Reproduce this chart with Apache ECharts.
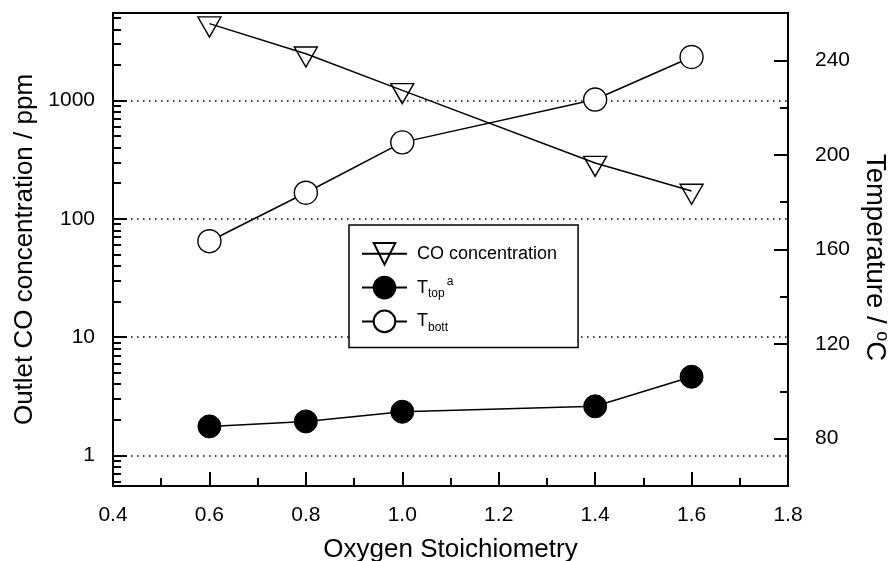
<!DOCTYPE html>
<html>
<head>
<meta charset="utf-8">
<script src="https://cdn.jsdelivr.net/npm/echarts@6/dist/echarts.min.js"></script>
<style>
  html, body { margin: 0; padding: 0; background: #fff; }
  #chart { width: 889px; height: 561px; }
</style>
</head>
<body>
<div id="chart"></div>
<script>
// Oxygen stoichiometry (x) for each run
const stoichiometry = [0.6, 0.8, 1.0, 1.4, 1.6];
// Outlet CO concentration, ppm (left, log axis)
const coConcentration = [4470, 2490, 1220, 296, 172];
// Bed temperatures, °C (right axis)
const tTop = [85.2, 87.3, 91.4, 93.7, 106.2];
const tBott = [163.5, 184, 205.3, 223.4, 241.4];

// Axis tick values
const xTicks = [0.4, 0.6, 0.8, 1.0, 1.2, 1.4, 1.6, 1.8];
const coMajorTicks = [1, 10, 100, 1000];
const coMinorTicks = [0.6, 0.7, 0.8, 0.9, 2, 3, 4, 5, 6, 7, 8, 9, 20, 30, 40, 50, 60, 70, 80, 90,
  200, 300, 400, 500, 600, 700, 800, 900, 2000, 3000, 4000, 5000];
const tempMajorTicks = [80, 120, 160, 200, 240];
const tempMinorTicks = [100, 140, 180, 220];

const FONT = "'Liberation Sans', Arial, sans-serif";
const toPairs = ys => stoichiometry.map((x, i) => [x, ys[i]]);

const legendLabels = {
  'CO concentration': 'CO concentration',
  'Ttop': '{m|T}{sub|top}{sup|a}',
  'Tbott': '{m|T}{sub|bott}'
};

const chart = echarts.init(document.getElementById('chart'), null, { renderer: 'canvas' });

const logRange = { min: 0.55, max: 5500 };
const tempRange = { min: 60, max: 260 };

chart.setOption({
  animation: false,
  backgroundColor: '#fff',
  textStyle: { fontFamily: FONT },
  grid: {
    left: 113, right: 101, top: 13, bottom: 75,
    containLabel: false, outerBoundsMode: 'none',
    show: true, borderColor: '#000', borderWidth: 2, backgroundColor: 'transparent'
  },
  legend: {
    orient: 'vertical',
    left: 349, top: 225,
    itemWidth: 45, itemHeight: 27, itemGap: 10,
    padding: [17, 21, 14, 12],
    borderColor: '#000', borderWidth: 1.5, backgroundColor: '#fff',
    data: ['CO concentration', 'Ttop', 'Tbott'],
    formatter: name => legendLabels[name],
    textStyle: {
      fontFamily: FONT, fontSize: 18, color: '#000', padding: [0, 0, 0, 5],
      rich: {
        m: { fontSize: 18, fontFamily: FONT, color: '#000' },
        sub: { fontSize: 12, fontFamily: FONT, color: '#000', padding: [12, 0, 0, 0] },
        sup: { fontSize: 12, fontFamily: FONT, color: '#000', padding: [0, 0, 12, 2] }
      }
    }
  },
  xAxis: {
    type: 'value',
    min: 0.4, max: 1.8, interval: 0.2,
    name: 'Oxygen Stoichiometry',
    nameLocation: 'middle', nameGap: 51,
    nameTextStyle: { fontSize: 26, color: '#000', fontFamily: FONT },
    axisLine: { show: true, lineStyle: { color: '#000', width: 2 } },
    axisTick: { show: true, inside: true, length: 14, lineStyle: { color: '#000', width: 2 } },
    minorTick: { show: true, splitNumber: 2, length: 8, lineStyle: { color: '#000', width: 2 } },
    axisLabel: {
      customValues: xTicks,
      fontSize: 21, color: '#000', margin: 19, fontFamily: FONT,
      formatter: v => v.toFixed(1)
    },
    splitLine: { show: false }
  },
  yAxis: [
    {
      // CO concentration, log scale
      type: 'log', logBase: 10,
      min: logRange.min, max: logRange.max,
      position: 'left',
      name: 'Outlet CO concentration / ppm',
      nameLocation: 'middle', nameGap: 75, nameRotate: 90,
      nameTextStyle: { fontSize: 26, color: '#000', fontFamily: FONT },
      axisLine: { show: true, lineStyle: { color: '#000', width: 2 } },
      axisTick: { show: true, inside: true, length: 14, customValues: coMajorTicks,
        lineStyle: { color: '#000', width: 2 } },
      axisLabel: { customValues: coMajorTicks, fontSize: 21, color: '#000', margin: 18, fontFamily: FONT,
        formatter: v => String(Math.round(v)) },
      splitLine: { show: true, lineStyle: { color: '#000', width: 1.5, type: [1.5, 4.5] } }
    },
    {
      // minor ticks within each decade of the log axis
      type: 'log', logBase: 10,
      min: logRange.min, max: logRange.max,
      position: 'left',
      axisLine: { show: false },
      axisTick: { show: true, inside: true, length: 8, customValues: coMinorTicks,
        lineStyle: { color: '#000', width: 2 } },
      axisLabel: { show: false },
      splitLine: { show: false }
    },
    {
      // temperature
      type: 'value',
      min: tempRange.min, max: tempRange.max,
      position: 'right',
      name: '{n|Temperature / }{sup|o}{n|C}',
      nameLocation: 'middle', nameGap: 66, nameRotate: -90,
      nameTextStyle: {
        color: '#000',
        padding: [0, 0, 0, 16],
        rich: {
          n: { fontSize: 27.5, fontFamily: FONT, color: '#000' },
          sup: { fontSize: 18, fontFamily: FONT, color: '#000', padding: [0, 0, 15, 0] }
        }
      },
      axisLine: { show: true, lineStyle: { color: '#000', width: 2 } },
      axisTick: { show: true, inside: true, length: 14, customValues: tempMajorTicks,
        lineStyle: { color: '#000', width: 2 } },
      axisLabel: { customValues: tempMajorTicks, fontSize: 21, color: '#000', margin: 27, fontFamily: FONT },
      splitLine: { show: false }
    },
    {
      // minor ticks for temperature
      type: 'value',
      min: tempRange.min, max: tempRange.max,
      position: 'right',
      axisLine: { show: false },
      axisTick: { show: true, inside: true, length: 8, customValues: tempMinorTicks,
        lineStyle: { color: '#000', width: 2 } },
      axisLabel: { show: false },
      splitLine: { show: false }
    }
  ],
  series: [
    {
      name: 'CO concentration',
      type: 'line',
      yAxisIndex: 0,
      data: toPairs(coConcentration),
      symbol: 'triangle', symbolRotate: 180,
      symbolSize: [23, 20], symbolOffset: [0, 3.3],
      lineStyle: { color: '#000', width: 1.5 },
      itemStyle: { color: 'rgba(255,255,255,0)', borderColor: '#000', borderWidth: 1.4 },
      z: 3
    },
    {
      name: 'Ttop',
      type: 'line',
      yAxisIndex: 2,
      data: toPairs(tTop),
      symbol: 'circle', symbolSize: 23,
      lineStyle: { color: '#000', width: 1.5 },
      itemStyle: { color: '#000', borderColor: '#000', borderWidth: 1 },
      z: 4
    },
    {
      name: 'Tbott',
      type: 'line',
      yAxisIndex: 2,
      data: toPairs(tBott),
      symbol: 'circle', symbolSize: 23,
      lineStyle: { color: '#000', width: 1.5 },
      itemStyle: { color: '#fff', borderColor: '#000', borderWidth: 1.4 },
      z: 4
    }
  ]
});
</script>
</body>
</html>
